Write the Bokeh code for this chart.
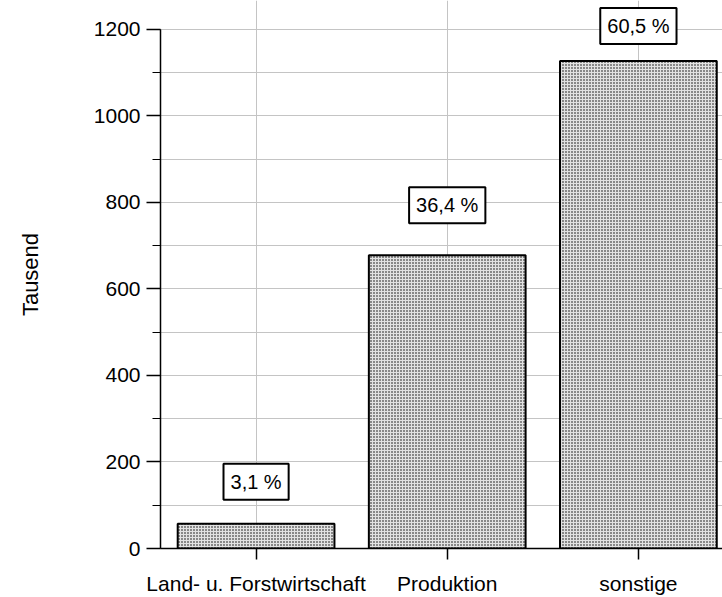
from bokeh.plotting import figure
from bokeh.models import ColumnDataSource, FixedTicker, SingleIntervalTicker, Label
from bokeh.embed import file_html
from bokeh.resources import INLINE

categories = ["Land- u. Forstwirtschaft", "Produktion", "sonstige"]
values = [57, 678, 1127]
share_labels = ["3,1 %", "36,4 %", "60,5 %"]
y_max = 1200

# layout-only: pixel offsets of the percentage boxes above each bar
label_offsets = [42, 50, 35]

xs = list(range(len(categories)))
src = ColumnDataSource(dict(x=xs, top=values))

FONT = "Liberation Sans"

p = figure(width=722, height=597, output_backend="svg", toolbar_location=None,
           x_range=(-0.5, 2.44), y_range=(0, 1267),
           min_border_left=160, min_border_right=0, min_border_top=0, min_border_bottom=48)
p.outline_line_color = None
p.background_fill_color = "white"

p.vbar(x="x", top="top", width=0.82, source=src, fill_color="#e2e2e2",
       hatch_pattern="dot", hatch_scale=3, hatch_color="black", hatch_weight=1.2,
       line_color="black", line_width=2)

for xi, v, lab, off in zip(xs, values, share_labels, label_offsets):
    p.add_layout(Label(x=xi, y=v, text=lab, y_offset=off,
                       text_align="center", text_baseline="middle",
                       text_font=FONT, text_font_size="20px", text_color="black",
                       background_fill_color="white", border_line_color="black",
                       border_line_width=2, padding=7))

# y axis
p.yaxis.ticker = SingleIntervalTicker(interval=200, num_minor_ticks=2)
p.yaxis.bounds = (0, y_max)
p.yaxis.axis_label = "Tausend"
p.yaxis.axis_label_text_font = FONT
p.yaxis.axis_label_text_font_size = "22px"
p.yaxis.axis_label_text_font_style = "normal"
p.yaxis.axis_label_text_color = "black"
p.yaxis.axis_label_standoff = 48
p.yaxis.major_label_text_font = FONT
p.yaxis.major_label_text_font_size = "21px"
p.yaxis.major_label_text_color = "black"
p.yaxis.major_label_standoff = 6
p.yaxis.major_tick_out = 14
p.yaxis.major_tick_in = 0
p.yaxis.minor_tick_out = 8
p.yaxis.minor_tick_in = 0
p.yaxis.axis_line_color = "black"
p.yaxis.axis_line_width = 1.5
p.yaxis.major_tick_line_width = 1.5

# x axis
p.xaxis.ticker = FixedTicker(ticks=xs)
p.xaxis.major_label_overrides = {i: c for i, c in zip(xs, categories)}
p.xaxis.major_label_text_font = FONT
p.xaxis.major_label_text_font_size = "21px"
p.xaxis.major_label_text_color = "black"
p.xaxis.major_label_standoff = 12
p.xaxis.major_tick_out = 11
p.xaxis.major_tick_in = 0
p.xaxis.minor_tick_line_color = None
p.xaxis.axis_line_color = "black"
p.xaxis.axis_line_width = 1.5
p.xaxis.major_tick_line_width = 1.5

# grid
p.ygrid.ticker = SingleIntervalTicker(interval=200, num_minor_ticks=2)
p.ygrid.grid_line_color = "#c4c4c4"
p.ygrid.minor_grid_line_color = "#c4c4c4"
p.xgrid.ticker = FixedTicker(ticks=xs)
p.xgrid.grid_line_color = "#c4c4c4"
p.xgrid.bounds = (0, y_max)

open("out.html", "w").write(file_html(p, INLINE))
